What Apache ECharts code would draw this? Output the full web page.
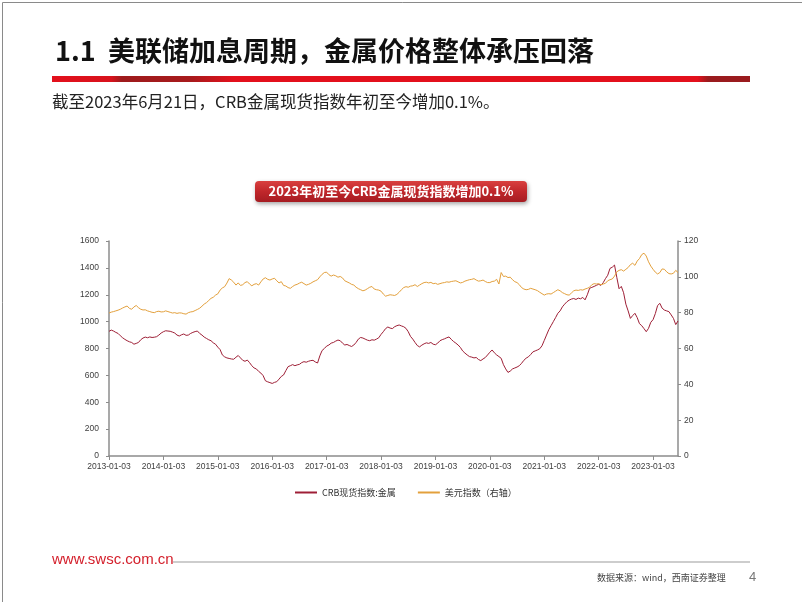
<!DOCTYPE html>
<html>
<head>
<meta charset="utf-8">
<script src="https://cdn.jsdelivr.net/npm/echarts@6/dist/echarts.min.js"></script>
<style>
html,body{margin:0;padding:0;background:#fff;overflow:hidden;}
#c{width:802px;height:602px;}
</style>
</head>
<body>
<div id="c"></div>
<script>
// ---- data ----
var titleText = '1.1  美联储加息周期，金属价格整体承压回落';
var subText = '截至2023年6月21日，CRB金属现货指数年初至今增加0.1%。';
var bannerText = '2023年初至今CRB金属现货指数增加0.1%';
var seriesNames = ['CRB现货指数:金属', '美元指数（右轴）'];
var leftTicks = {min: 0, max: 1600, interval: 200};
var rightTicks = {min: 0, max: 120, interval: 20};
var startYear = 2013, endYear = 2023, lastMonth = 6, lastDay = '21';
var sampleDays = ['03', '18'];

// CRB现货指数:金属, twice a month (3rd and 18th)
var crbMetal = [
 928, 937, 930, 920, 912, 895, 880, 868, 858, 850, 845, 832, 838, 845, 865, 878, 885, 880, 886, 882, 884, 888, 900, 915,
 925, 932, 930, 928, 922, 915, 900, 893, 902, 908, 898, 900, 912, 920, 926, 930, 912, 900, 885, 875, 865, 858, 842, 832,
 810, 792, 752, 738, 730, 726, 722, 720, 735, 748, 730, 712, 705, 714, 695, 672, 655, 648, 630, 617, 598, 560, 552, 546,
 540, 548, 553, 572, 592, 603, 635, 665, 672, 680, 672, 678, 682, 695, 702, 698, 705, 710, 712, 700, 692, 745, 785, 800,
 818, 826, 840, 845, 855, 863, 858, 840, 826, 830, 822, 815, 826, 845, 870, 882, 878, 870, 862, 858, 865, 862, 870, 880,
 905, 925, 948, 960, 952, 948, 962, 970, 975, 968, 962, 950, 925, 890, 870, 845, 822, 812, 825, 835, 842, 838, 845, 832,
 828, 840, 858, 866, 872, 880, 886, 868, 852, 840, 826, 808, 782, 766, 752, 740, 736, 730, 733, 718, 710, 722, 733, 752,
 772, 789, 768, 752, 740, 727, 680, 648, 622, 632, 648, 655, 662, 672, 690, 712, 728, 738, 755, 775, 782, 789, 798, 820,
 860, 900, 940, 970, 1000, 1030, 1062, 1080, 1110, 1130, 1148, 1160, 1168, 1172, 1165, 1175, 1170, 1180, 1162, 1200, 1248, 1255, 1262, 1270,
 1278, 1270, 1290, 1320, 1345, 1396, 1405, 1421, 1330, 1245, 1262, 1215, 1130, 1080, 1024, 1045, 1062, 1030, 985, 970, 948, 925, 950, 995,
 1015, 1060, 1120, 1136, 1100, 1086, 1080, 1074, 1050, 1024, 978, 1005
];

// 美元指数（右轴）
var usdIndex = [
 79.8, 80.3, 80.6, 81.0, 81.4, 81.9, 82.6, 83.2, 83.7, 82.4, 81.9, 83.2, 84.0, 82.8, 81.9, 81.5, 81.6, 81.0, 80.6, 80.2, 80.0, 80.6, 80.8, 80.4,
 80.5, 81.0, 80.6, 80.2, 79.8, 80.0, 79.6, 79.9, 79.8, 79.4, 79.2, 80.0, 80.4, 80.6, 81.2, 81.8, 82.5, 83.6, 84.8, 85.6, 86.8, 88.0, 88.6, 89.8,
 90.5, 92.6, 93.8, 94.5, 96.5, 99.0, 98.2, 97.0, 95.4, 96.6, 95.2, 95.6, 96.8, 97.3, 96.0, 95.0, 95.8, 96.2, 95.4, 97.2, 98.8, 99.5, 98.6, 98.2,
 98.8, 99.2, 97.8, 96.6, 97.3, 95.2, 94.9, 94.0, 93.6, 94.6, 95.4, 95.8, 96.5, 97.0, 96.2, 95.4, 95.8, 96.4, 97.2, 97.8, 98.4, 100.0, 101.4, 102.4,
 102.6, 101.2, 100.4, 101.0, 100.6, 99.8, 100.2, 99.4, 97.8, 97.2, 96.6, 95.8, 95.4, 94.2, 93.4, 92.8, 92.2, 92.6, 93.4, 94.2, 94.6, 93.2, 92.8, 92.6,
 92.0, 90.4, 89.2, 89.6, 90.0, 89.8, 89.6, 90.2, 91.4, 92.8, 94.0, 94.5, 94.2, 94.8, 95.0, 95.6, 94.6, 95.4, 96.2, 96.8, 97.0, 96.6, 96.9, 96.2,
 96.4, 95.8, 96.2, 96.6, 96.8, 97.2, 97.0, 97.4, 97.6, 97.8, 97.2, 96.6, 96.9, 97.6, 98.0, 98.4, 98.6, 99.0, 98.2, 97.6, 97.8, 98.2, 97.4, 96.8,
 96.8, 97.4, 97.6, 98.6, 96.0, 102.4, 100.2, 100.4, 99.6, 99.8, 98.4, 97.3, 96.8, 95.6, 94.0, 93.2, 92.8, 93.0, 93.6, 93.2, 92.8, 92.3, 91.4, 90.6,
 89.8, 90.4, 90.6, 90.4, 91.2, 92.0, 92.8, 92.2, 91.2, 90.6, 90.0, 89.8, 91.0, 92.2, 92.6, 92.4, 92.8, 92.6, 93.2, 93.6, 94.2, 95.6, 96.2, 96.0,
 96.2, 95.6, 96.0, 96.4, 97.8, 98.4, 98.8, 100.4, 102.8, 103.6, 104.0, 103.2, 104.2, 105.2, 106.8, 107.6, 106.4, 108.8, 110.2, 112.4, 113.2, 111.6, 108.4, 106.0,
 104.2, 102.6, 101.6, 102.4, 104.4, 104.2, 102.8, 101.8, 101.6, 102.0, 103.6, 102.4
];

// date categories: 3rd and 18th of every month, last one 2023-06-21
var dates = [];
for (var y = startYear; y <= endYear; y++) {
  for (var m = 1; m <= 12; m++) {
    if (y === endYear && m > lastMonth) break;
    var mm = (m < 10 ? '0' : '') + m;
    for (var d = 0; d < sampleDays.length; d++) {
      var day = sampleDays[d];
      if (y === endYear && m === lastMonth && d === sampleDays.length - 1) day = lastDay;
      dates.push(y + '-' + mm + '-' + day);
    }
  }
}

var RED = '#9E1F36', ORANGE = '#E3A03C';
var chart = echarts.init(document.getElementById('c'), null, {renderer: 'canvas'});
var cjk = '"Noto Sans CJK SC", "Noto Sans", sans-serif';
var axisFont = '"Liberation Sans", Arial, sans-serif';
function plain(v) { return String(v); }

chart.setOption({
  animation: false,
  backgroundColor: '#fff',
  grid: {left: 109, right: 124, top: 241, bottom: 146, containLabel: false},
  legend: {
    left: 290, top: 483,
    itemWidth: 22, itemHeight: 2, itemGap: 22,
    icon: 'rect',
    textStyle: {fontSize: 9, color: '#333', fontFamily: cjk},
    data: seriesNames
  },
  xAxis: {
    type: 'category', data: dates, boundaryGap: false,
    axisLine: {lineStyle: {color: '#8c8c8c', width: 1.5}},
    axisTick: {interval: 23, length: 4, lineStyle: {color: '#8c8c8c'}},
    axisLabel: {interval: 23, fontSize: 8.5, color: '#404040', margin: 6, fontFamily: axisFont},
    splitLine: {show: false}
  },
  yAxis: [
    {type: 'value', min: leftTicks.min, max: leftTicks.max, interval: leftTicks.interval,
     axisLine: {show: true, lineStyle: {color: '#8c8c8c', width: 1.5}},
     axisTick: {show: true, length: 3, lineStyle: {color: '#8c8c8c'}},
     axisLabel: {fontSize: 8.5, color: '#404040', margin: 10, fontFamily: axisFont, formatter: plain},
     splitLine: {show: false}},
    {type: 'value', min: rightTicks.min, max: rightTicks.max, interval: rightTicks.interval, position: 'right',
     axisLine: {show: true, lineStyle: {color: '#8c8c8c', width: 1.5}},
     axisTick: {show: true, length: 3, lineStyle: {color: '#8c8c8c'}},
     axisLabel: {fontSize: 8.5, color: '#404040', margin: 6, fontFamily: axisFont, formatter: plain},
     splitLine: {show: false}}
  ],
  series: [
    {name: seriesNames[0], type: 'line', yAxisIndex: 0, data: crbMetal, showSymbol: false, symbol: 'none',
     lineStyle: {color: RED, width: 1}, itemStyle: {color: RED}},
    {name: seriesNames[1], type: 'line', yAxisIndex: 1, data: usdIndex, showSymbol: false, symbol: 'none',
     lineStyle: {color: ORANGE, width: 1}, itemStyle: {color: ORANGE}}
  ],
  graphic: [
    {type: 'rect', left: 0, top: 0, shape: {x: 0.5, y: 0.5, width: 801, height: 601},
     style: {fill: 'none', stroke: '#8a8a8a', lineWidth: 1}, silent: true},
    {type: 'text', left: 55, top: 37,
     style: {text: titleText, fill: '#111', font: 'bold 27px ' + cjk}},
    {type: 'rect', shape: {x: 52, y: 76, width: 698, height: 6},
     style: {fill: new echarts.graphic.LinearGradient(0, 0, 1, 0, [
       {offset: 0, color: '#e3101c'}, {offset: 0.085, color: '#d8121c'},
       {offset: 0.1, color: '#9e1a1c'}, {offset: 0.2, color: '#a81a1c'},
       {offset: 0.26, color: '#e3101c'}, {offset: 0.925, color: '#e3101c'},
       {offset: 0.94, color: '#9a1b1e'}, {offset: 1, color: '#9a1b1e'}])}},
    {type: 'text', left: 52, top: 93,
     style: {text: subText, fill: '#222', font: '16.5px ' + cjk}},
    {type: 'rect', shape: {x: 255, y: 181, width: 272, height: 21, r: 4},
     style: {fill: new echarts.graphic.LinearGradient(0, 0, 0, 1, [
       {offset: 0, color: '#d9403f'}, {offset: 0.5, color: '#c0272b'}, {offset: 1, color: '#a61c22'}]),
       shadowBlur: 4, shadowOffsetX: 1, shadowOffsetY: 2, shadowColor: 'rgba(0,0,0,0.35)'}},
    {type: 'text', x: 391, y: 191.5,
     style: {text: bannerText, fill: '#fff', font: 'bold 13px ' + cjk, align: 'center', verticalAlign: 'middle'}},
    {type: 'text', left: 52, top: 552,
     style: {text: 'www.swsc.com.cn', fill: '#d4202c', font: '15px "Liberation Sans", Arial, sans-serif'}},
    {type: 'line', shape: {x1: 173, y1: 562, x2: 750, y2: 562},
     style: {stroke: '#bdbdbd', lineWidth: 1.5}},
    {type: 'text', left: 597, top: 573,
     style: {text: '数据来源：wind，西南证券整理', fill: '#444', font: '9px ' + cjk}},
    {type: 'text', left: 749, top: 571,
     style: {text: '4', fill: '#777', font: '13px "Liberation Sans", Arial, sans-serif'}}
  ]
});
</script>
</body>
</html>
